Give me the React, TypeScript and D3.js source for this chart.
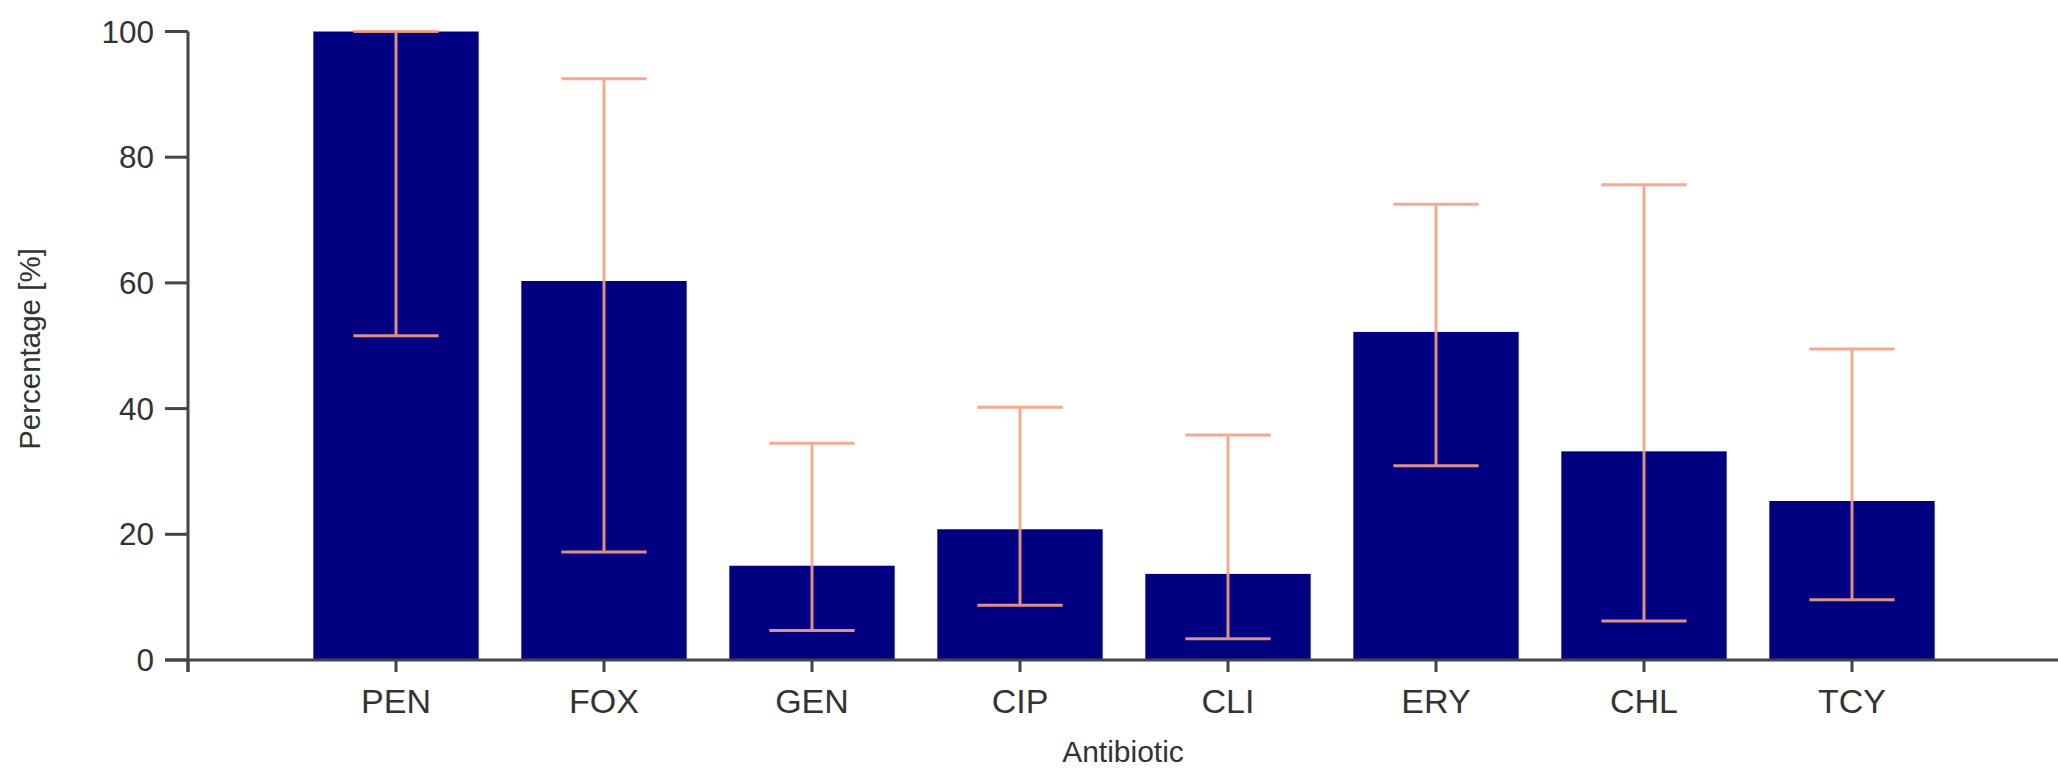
import React from "react";
import * as d3 from "d3";

const categories = ["PEN", "FOX", "GEN", "CIP", "CLI", "ERY", "CHL", "TCY"];
const percentages = [100, 60.3, 15.0, 20.8, 13.7, 52.2, 33.2, 25.3];
const lowerCI = [51.6, 17.2, 4.7, 8.7, 3.4, 30.9, 6.2, 9.6];
const upperCI = [100, 92.5, 34.5, 40.2, 35.8, 72.5, 75.6, 49.5];
const yTicks = [0, 20, 40, 60, 80, 100];
const xTickPositions = [0, 1, 2, 3, 4, 5, 6, 7, 8, 9];

const W = 2058;
const H = 770;

export default function App() {
  const x = d3.scaleLinear().domain([0, 9]).range([188, 2060]);
  const y = d3.scaleLinear().domain([0, 100]).range([660, 31.5]);
  const step = x(1) - x(0);
  const barW = step * 0.795;
  const capW = step * 0.41;
  const axisColor = "#444";
  const textColor = "#333";
  const errColor = "#F4A088";
  const font = "Arial, 'Liberation Sans', Helvetica, sans-serif";

  return (
    <svg
      width={W}
      height={H}
      style={{ position: "absolute", left: 0, top: 0, background: "#fff" }}
      fontFamily={font}
    >
      <rect x={0} y={0} width={W} height={H} fill="#fff" />
      {categories.map((c, i) => (
        <rect
          key={c}
          x={x(i + 1) - barW / 2}
          y={y(percentages[i])}
          width={barW}
          height={y(0) - y(percentages[i])}
          fill="#000080"
        />
      ))}
      {categories.map((c, i) => {
        const cx = x(i + 1);
        return (
          <g key={c + "e"} stroke={errColor} strokeWidth={3} opacity={0.9}>
            <line x1={cx} x2={cx} y1={y(lowerCI[i])} y2={y(upperCI[i])} />
            <line x1={cx - capW / 2} x2={cx + capW / 2} y1={y(lowerCI[i])} y2={y(lowerCI[i])} />
            <line x1={cx - capW / 2} x2={cx + capW / 2} y1={y(upperCI[i])} y2={y(upperCI[i])} />
          </g>
        );
      })}
      <line x1={x(0)} x2={x(0)} y1={y(100)} y2={y(0) + 12} stroke={axisColor} strokeWidth={3} />
      {yTicks.map((t) => (
        <g key={t}>
          <line x1={x(0) - 23} x2={x(0)} y1={y(t)} y2={y(t)} stroke={axisColor} strokeWidth={3} />
          <text
            x={x(0) - 34}
            y={y(t)}
            textAnchor="end"
            dominantBaseline="central"
            fontSize={31.5}
            fill={textColor}
          >
            {t}
          </text>
        </g>
      ))}
      <line x1={x(0) - 23} x2={W} y1={y(0)} y2={y(0)} stroke={axisColor} strokeWidth={3} />
      {xTickPositions.map((p) => (
        <line key={p} x1={x(p)} x2={x(p)} y1={y(0)} y2={y(0) + 12} stroke={axisColor} strokeWidth={3} />
      ))}
      {categories.map((c, i) => (
        <text
          key={c + "l"}
          x={x(i + 1)}
          y={713}
          textAnchor="middle"
          fontSize={34}
          fill={textColor}
        >
          {c}
        </text>
      ))}
      <text x={1123} y={762} textAnchor="middle" fontSize={30} fill={textColor}>
        Antibiotic
      </text>
      <text
        transform={`translate(40, 349) rotate(-90)`}
        textAnchor="middle"
        fontSize={29.5}
        fill={textColor}
      >
        Percentage [%]
      </text>
    </svg>
  );
}
